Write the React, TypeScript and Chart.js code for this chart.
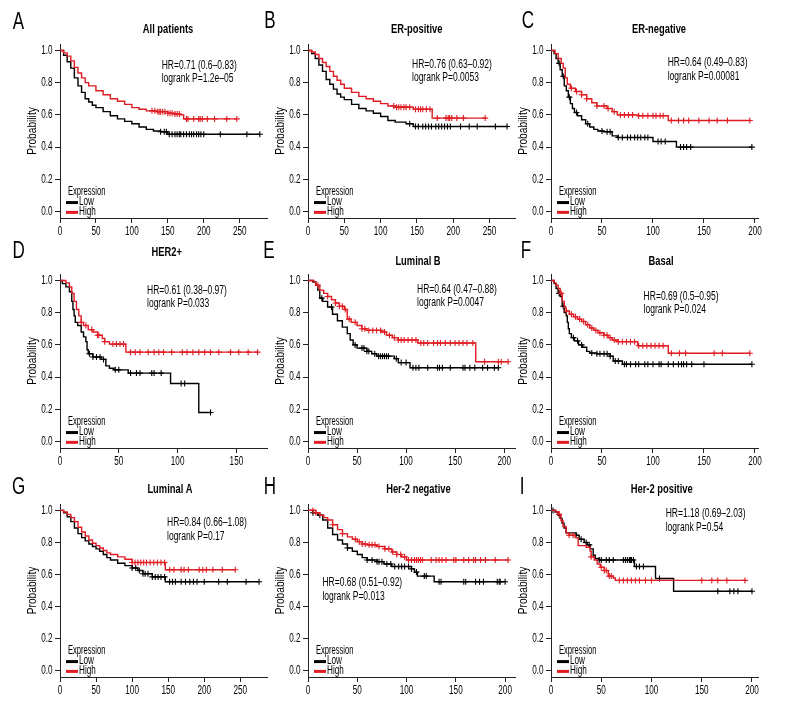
import React, { useEffect, useRef } from 'react';
import { Chart, registerables } from 'chart.js';

Chart.register(...registerables);

// ---------- shared labels / ticks ----------
const Y_TICKS = [0, 0.2, 0.4, 0.6, 0.8, 1.0];
const X_TICKS_250 = [0, 50, 100, 150, 200, 250];
const X_TICKS_200 = [0, 50, 100, 150, 200];
const X_TICKS_150 = [0, 50, 100, 150];
const Y_TITLE = 'Probability';
const LEGEND_TITLE = 'Expression';
const GROUP_LABELS = ['Low', 'High'];

// ---------- A: All patients ----------
const A_LOW_T = [0, 5, 10, 15, 20, 25, 30, 35, 40, 45, 50, 60, 70, 80, 90, 100, 110, 120, 130, 140, 150];
const A_LOW_S = [1, 0.97, 0.93, 0.89, 0.83, 0.78, 0.74, 0.7, 0.68, 0.66, 0.645, 0.62, 0.595, 0.575, 0.56, 0.545, 0.525, 0.51, 0.5, 0.495, 0.48];
const A_LOW_C = [140, 145, 148, 152, 156, 160, 163, 166, 168, 172, 176, 180, 183, 186, 190, 193, 196, 200, 223, 260, 278];
const A_HIGH_T = [0, 5, 10, 15, 20, 25, 30, 35, 40, 50, 60, 70, 80, 90, 100, 110, 120, 135, 150, 160, 168, 172];
const A_HIGH_S = [1, 0.985, 0.965, 0.935, 0.895, 0.86, 0.83, 0.8, 0.78, 0.75, 0.725, 0.7, 0.685, 0.665, 0.645, 0.635, 0.625, 0.62, 0.61, 0.605, 0.6, 0.575];
const A_HIGH_C = [128, 132, 136, 138, 140, 143, 146, 150, 153, 156, 160, 163, 166, 176, 178, 186, 193, 195, 198, 205, 215, 232, 246];

// ---------- B: ER-positive ----------
const B_LOW_T = [0, 5, 10, 15, 20, 25, 30, 35, 40, 45, 50, 60, 70, 80, 90, 100, 110, 120, 135, 145];
const B_LOW_S = [1, 0.98, 0.95, 0.91, 0.87, 0.82, 0.79, 0.76, 0.73, 0.71, 0.695, 0.665, 0.64, 0.625, 0.61, 0.59, 0.565, 0.555, 0.545, 0.528];
const B_LOW_C = [140, 148, 152, 158, 162, 166, 170, 176, 180, 184, 188, 192, 196, 210, 222, 233, 258, 274];
const B_HIGH_T = [0, 5, 10, 15, 20, 25, 30, 35, 40, 45, 50, 60, 70, 80, 90, 100, 110, 120, 145, 171];
const B_HIGH_S = [1, 0.99, 0.975, 0.95, 0.925, 0.9, 0.87, 0.84, 0.815, 0.79, 0.765, 0.74, 0.715, 0.7, 0.685, 0.67, 0.655, 0.648, 0.635, 0.58];
const B_HIGH_C = [118, 122, 125, 128, 132, 135, 140, 148, 152, 155, 158, 163, 168, 178, 190, 193, 195, 198, 205, 214, 244];

// ---------- C: ER-negative ----------
const C_LOW_T = [0, 3, 5, 7, 9, 11, 13, 15, 17, 19, 21, 23, 26, 30, 34, 38, 42, 46, 52, 60, 65, 100, 123];
const C_LOW_S = [1, 0.98, 0.95, 0.92, 0.88, 0.84, 0.78, 0.75, 0.71, 0.67, 0.64, 0.615, 0.595, 0.57, 0.545, 0.525, 0.51, 0.5, 0.495, 0.47, 0.46, 0.435, 0.4];
const C_LOW_C = [8, 12, 18, 25, 36, 50, 55, 58, 66, 70, 75, 78, 82, 85, 88, 92, 95, 105, 108, 112, 127, 130, 133, 137, 197];
const C_HIGH_T = [0, 4, 7, 10, 12, 14, 16, 19, 24, 30, 35, 40, 45, 55, 60, 65, 85, 115];
const C_HIGH_S = [1, 0.98, 0.95, 0.92, 0.89, 0.83, 0.79, 0.765, 0.745, 0.725, 0.7, 0.675, 0.655, 0.64, 0.62, 0.6, 0.595, 0.565];
const C_HIGH_C = [20, 25, 30, 35, 45, 52, 56, 62, 68, 72, 76, 80, 86, 90, 95, 100, 103, 107, 110, 118, 125, 130, 135, 145, 155, 163, 173, 195];

// ---------- D: HER2+ ----------
const D_LOW_T = [0, 2, 5, 8, 10, 11, 12, 13, 15, 18, 20, 22, 23, 24, 28, 35, 39, 42, 46, 58, 94, 118];
const D_LOW_S = [1, 0.98, 0.96, 0.93, 0.87, 0.82, 0.78, 0.74, 0.72, 0.68, 0.65, 0.62, 0.57, 0.545, 0.525, 0.51, 0.47, 0.455, 0.445, 0.425, 0.36, 0.18];
const D_LOW_C = [25, 28, 31, 34, 37, 47, 50, 60, 65, 68, 78, 80, 86, 103, 106, 128];
const D_HIGH_T = [0, 5, 8, 10, 12, 14, 16, 18, 20, 24, 28, 32, 36, 38, 42, 56];
const D_HIGH_S = [1, 0.985, 0.96, 0.92, 0.87, 0.82, 0.78, 0.74, 0.72, 0.695, 0.68, 0.66, 0.64, 0.62, 0.605, 0.555];
const D_HIGH_C = [18, 22, 27, 32, 33, 38, 45, 48, 51, 54, 60, 64, 68, 75, 80, 84, 88, 95, 104, 108, 113, 118, 123, 128, 135, 145, 152, 160, 168];

// ---------- E: Luminal B ----------
const E_LOW_T = [0, 5, 8, 10, 12, 15, 20, 25, 30, 35, 40, 43, 46, 50, 60, 65, 70, 88, 92, 104];
const E_LOW_S = [1, 0.99, 0.97, 0.94, 0.89, 0.87, 0.835, 0.79, 0.75, 0.71, 0.67, 0.63, 0.6, 0.58, 0.56, 0.545, 0.53, 0.515, 0.49, 0.458];
const E_LOW_C = [14, 24, 48, 55, 57, 60, 62, 68, 72, 74, 76, 78, 80, 82, 90, 95, 100, 107, 110, 113, 122, 132, 134, 137, 145, 158, 160, 165, 170, 178, 183, 190, 194];
const E_HIGH_T = [0, 6, 8, 12, 16, 20, 24, 28, 32, 37, 40, 44, 50, 55, 60, 75, 80, 86, 92, 112, 171];
const E_HIGH_S = [1, 0.99, 0.97, 0.94, 0.92, 0.9, 0.88, 0.86, 0.84, 0.82, 0.76, 0.74, 0.72, 0.7, 0.69, 0.68, 0.66, 0.645, 0.63, 0.612, 0.495];
const E_HIGH_C = [10, 20, 28, 32, 35, 38, 42, 48, 55, 58, 62, 66, 70, 74, 78, 83, 88, 92, 95, 98, 102, 106, 110, 115, 118, 122, 128, 132, 135, 140, 145, 150, 154, 158, 162, 168, 180, 194, 197, 204];

// ---------- F: Basal ----------
const F_LOW_T = [0, 3, 5, 7, 9, 11, 13, 15, 16, 17, 18, 20, 23, 27, 31, 35, 38, 45, 58, 61, 70];
const F_LOW_S = [1, 0.98, 0.95, 0.92, 0.9, 0.84, 0.8, 0.78, 0.74, 0.7, 0.67, 0.645, 0.625, 0.6, 0.585, 0.56, 0.55, 0.545, 0.53, 0.5, 0.48];
const F_LOW_C = [8, 12, 22, 26, 30, 40, 45, 48, 52, 55, 58, 63, 66, 72, 74, 78, 83, 86, 92, 95, 100, 106, 108, 115, 120, 125, 128, 130, 133, 138, 150, 197];
const F_HIGH_T = [0, 3, 5, 7, 9, 11, 13, 15, 18, 22, 26, 30, 34, 38, 42, 46, 52, 56, 60, 65, 85, 115];
const F_HIGH_S = [1, 0.985, 0.97, 0.95, 0.92, 0.87, 0.83, 0.81, 0.79, 0.775, 0.76, 0.745, 0.725, 0.705, 0.69, 0.675, 0.66, 0.645, 0.63, 0.62, 0.595, 0.548];
const F_HIGH_C = [10, 15, 20, 24, 28, 32, 36, 40, 44, 48, 52, 55, 58, 62, 66, 70, 74, 78, 82, 86, 90, 94, 98, 102, 106, 110, 118, 126, 132, 160, 168, 195];

// ---------- G: Luminal A ----------
const G_LOW_T = [0, 5, 10, 15, 20, 25, 30, 35, 40, 45, 50, 55, 60, 65, 70, 80, 90, 100, 108, 115, 128, 146];
const G_LOW_S = [1, 0.985, 0.96, 0.93, 0.89, 0.855, 0.83, 0.81, 0.79, 0.775, 0.76, 0.745, 0.725, 0.705, 0.69, 0.67, 0.655, 0.64, 0.625, 0.605, 0.585, 0.555];
const G_LOW_C = [100, 105, 110, 115, 118, 122, 128, 132, 136, 140, 145, 152, 156, 160, 168, 174, 180, 185, 190, 200, 220, 232, 258, 276];
const G_HIGH_T = [0, 5, 10, 15, 20, 25, 30, 35, 40, 45, 50, 55, 60, 65, 70, 80, 90, 100, 146];
const G_HIGH_S = [1, 0.99, 0.975, 0.955, 0.93, 0.895, 0.865, 0.84, 0.815, 0.795, 0.78, 0.765, 0.75, 0.735, 0.725, 0.71, 0.695, 0.675, 0.63];
const G_HIGH_C = [100, 104, 108, 112, 116, 120, 125, 130, 135, 140, 145, 152, 158, 168, 172, 178, 193, 198, 203, 212, 225, 243];

// ---------- H: Her-2 negative ----------
const H_LOW_T = [0, 5, 10, 15, 20, 25, 30, 35, 40, 45, 50, 55, 60, 70, 77, 85, 105, 108, 111, 128];
const H_LOW_S = [1, 0.985, 0.97, 0.94, 0.89, 0.85, 0.815, 0.79, 0.765, 0.745, 0.725, 0.705, 0.69, 0.68, 0.665, 0.65, 0.635, 0.615, 0.59, 0.555];
const H_LOW_C = [5, 12, 40, 60, 65, 70, 72, 75, 80, 84, 88, 92, 95, 98, 102, 105, 110, 118, 120, 133, 135, 158, 160, 170, 174, 178, 192, 194, 195, 200];
const H_HIGH_T = [0, 8, 12, 16, 20, 25, 30, 35, 40, 45, 50, 55, 60, 70, 78, 85, 90, 95, 100];
const H_HIGH_S = [1, 0.985, 0.97, 0.955, 0.94, 0.91, 0.88, 0.855, 0.835, 0.82, 0.805, 0.79, 0.785, 0.775, 0.76, 0.74, 0.725, 0.71, 0.69];
const H_HIGH_C = [5, 8, 25, 35, 48, 52, 55, 58, 62, 65, 68, 72, 78, 82, 86, 90, 94, 98, 102, 105, 108, 110, 112, 114, 116, 125, 130, 133, 136, 140, 148, 150, 158, 163, 168, 170, 175, 180, 190, 203];

// ---------- I: Her-2 positive ----------
const I_LOW_T = [0, 4, 7, 9, 11, 13, 15, 25, 28, 33, 36, 39, 42, 44, 48, 83, 104, 122];
const I_LOW_S = [1, 0.99, 0.97, 0.95, 0.92, 0.89, 0.86, 0.845, 0.82, 0.8, 0.785, 0.76, 0.72, 0.7, 0.69, 0.65, 0.575, 0.495];
const I_LOW_C = [2, 25, 30, 35, 38, 48, 50, 55, 58, 62, 72, 74, 76, 78, 79, 80, 82, 85, 88, 92, 108, 166, 178, 182, 186, 200];
const I_HIGH_T = [0, 5, 8, 10, 12, 15, 18, 24, 27, 35, 39, 40, 43, 46, 49, 53, 57, 62, 64];
const I_HIGH_S = [1, 0.99, 0.975, 0.935, 0.9, 0.86, 0.845, 0.83, 0.78, 0.77, 0.745, 0.71, 0.69, 0.665, 0.645, 0.625, 0.59, 0.578, 0.563];
const I_HIGH_C = [8, 18, 22, 40, 50, 53, 55, 58, 60, 68, 72, 76, 80, 84, 88, 94, 100, 150, 160, 166, 175, 193];

// ---------- panel content ----------
const PANELS = [
  { letter: 'A', title: 'All patients', hr: 'HR=0.71 (0.6–0.83)', p: 'logrank P=1.2e–05', xMax: 288, xTicks: X_TICKS_250,
    low: [A_LOW_T, A_LOW_S, A_LOW_C], high: [A_HIGH_T, A_HIGH_S, A_HIGH_C] },
  { letter: 'B', title: 'ER-positive', hr: 'HR=0.76 (0.63–0.92)', p: 'logrank P=0.0053', xMax: 285, xTicks: X_TICKS_250,
    low: [B_LOW_T, B_LOW_S, B_LOW_C], high: [B_HIGH_T, B_HIGH_S, B_HIGH_C] },
  { letter: 'C', title: 'ER-negative', hr: 'HR=0.64 (0.49–0.83)', p: 'logrank P=0.00081', xMax: 203, xTicks: X_TICKS_200,
    low: [C_LOW_T, C_LOW_S, C_LOW_C], high: [C_HIGH_T, C_HIGH_S, C_HIGH_C] },
  { letter: 'D', title: 'HER2+', hr: 'HR=0.61 (0.38–0.97)', p: 'logrank P=0.033', xMax: 176, xTicks: X_TICKS_150,
    low: [D_LOW_T, D_LOW_S, D_LOW_C], high: [D_HIGH_T, D_HIGH_S, D_HIGH_C] },
  { letter: 'E', title: 'Luminal B', hr: 'HR=0.64 (0.47–0.88)', p: 'logrank P=0.0047', xMax: 211, xTicks: X_TICKS_200,
    low: [E_LOW_T, E_LOW_S, E_LOW_C], high: [E_HIGH_T, E_HIGH_S, E_HIGH_C] },
  { letter: 'F', title: 'Basal', hr: 'HR=0.69 (0.5–0.95)', p: 'logrank P=0.024', xMax: 203, xTicks: X_TICKS_200,
    low: [F_LOW_T, F_LOW_S, F_LOW_C], high: [F_HIGH_T, F_HIGH_S, F_HIGH_C] },
  { letter: 'G', title: 'Luminal A', hr: 'HR=0.84 (0.66–1.08)', p: 'logrank P=0.17', xMax: 287, xTicks: X_TICKS_250,
    low: [G_LOW_T, G_LOW_S, G_LOW_C], high: [G_HIGH_T, G_HIGH_S, G_HIGH_C] },
  { letter: 'H', title: 'Her-2 negative', hr: 'HR=0.68 (0.51–0.92)', p: 'logrank P=0.013', xMax: 210, xTicks: X_TICKS_200,
    low: [H_LOW_T, H_LOW_S, H_LOW_C], high: [H_HIGH_T, H_HIGH_S, H_HIGH_C] },
  { letter: 'I', title: 'Her-2 positive', hr: 'HR=1.18 (0.69–2.03)', p: 'logrank P=0.54', xMax: 206, xTicks: X_TICKS_200,
    low: [I_LOW_T, I_LOW_S, I_LOW_C], high: [I_HIGH_T, I_HIGH_S, I_HIGH_C] },
];

// ---------- layout / style (pixels) ----------
const FONT = "'Liberation Sans', Arial, sans-serif";
const RED = '#e01b22';
const BLACK = '#000000';
const TEXT = '#000000';
const COL_LEFT = [60, 308, 551];
const ROW_TOP = [44, 274, 504];
const ROW_PLOT_H = [174, 174, 173];
const PLOT_W = 207;
const PAD_LEFT = 60;
const PAD_TOP = 44;
const PAD_RIGHT = 14;
const X_AXIS_H = 24;

// offsets relative to the plot area's top-left corner
const DECOR = [
  { letter: [-41.5, -21.8], title: [108, -14.3], hr: [101.7, 21.4] },
  { letter: [-38, -22.3], title: [108.7, -14.3], hr: [104, 20.7] },
  { letter: [-23, -22.3], title: [108, -14.3], hr: [116.7, 19] },
  { letter: [-41.3, -22.6], title: [106.7, -22], hr: [87, 16.4] },
  { letter: [-39, -22.3], title: [110, -12.6], hr: [109, 15.7] },
  { letter: [-25, -22.3], title: [110, -12.6], hr: [92.6, 22.4] },
  { letter: [-41.3, -16.3], title: [110, -14.3], hr: [107, 19] },
  { letter: [-38, -16.3], title: [110.4, -14.3], hr: [14.4, 79] },
  { letter: [-29, -16.3], title: [110.7, -14.3], hr: [114.7, 10] },
];

function stepPoints(t: number[], s: number[], c: number[]) {
  const pts = t.map((x, i) => ({ x, y: s[i] }));
  const end = Math.max(t[t.length - 1], ...c);
  pts.push({ x: end, y: s[s.length - 1] });
  return pts;
}

function survAt(t: number[], s: number[], x: number) {
  let v = s[0];
  for (let i = 0; i < t.length; i++) if (t[i] <= x) v = s[i];
  return v;
}

function censorPoints(t: number[], s: number[], c: number[]) {
  return c.map((x) => ({ x, y: survAt(t, s, x) }));
}

// draws horizontally condensed text (the reference uses a condensed face)
function condText(
  ctx: CanvasRenderingContext2D, text: string, x: number, y: number,
  font: string, sx: number, align: CanvasTextAlign, rotate = 0,
) {
  ctx.save();
  ctx.translate(x, y);
  if (rotate) ctx.rotate(rotate);
  ctx.scale(sx, 1);
  ctx.font = font;
  ctx.textAlign = align;
  ctx.textBaseline = 'middle';
  ctx.fillStyle = TEXT;
  ctx.fillText(text, 0, 0);
  ctx.restore();
}

function Panel({ idx }: { idx: number }) {
  const ref = useRef<HTMLCanvasElement>(null);
  const panel = PANELS[idx];
  const decor = DECOR[idx];
  const col = idx % 3;
  const row = Math.floor(idx / 3);
  const plotH = ROW_PLOT_H[row];
  const width = PAD_LEFT + PLOT_W + PAD_RIGHT;
  const height = PAD_TOP + plotH + X_AXIS_H;
  const left = COL_LEFT[col] - PAD_LEFT;
  const top = ROW_TOP[row] - PAD_TOP;

  useEffect(() => {
    const canvas = ref.current!;
    const [lt, ls, lc] = panel.low;
    const [ht, hs, hc] = panel.high;

    const decorPlugin = {
      id: 'kmDecor',
      afterDraw(chart: any) {
        const ctx = chart.ctx as CanvasRenderingContext2D;
        const a = chart.chartArea;
        const xs = chart.scales.x;
        const ys = chart.scales.y;
        const y0 = ys.getPixelForValue(0);
        const small = `12px ${FONT}`;
        // tick labels
        panel.xTicks.forEach((v) => {
          condText(ctx, String(v), xs.getPixelForValue(v), a.bottom + 13.5, small, 0.68, 'center');
        });
        Y_TICKS.forEach((v) => {
          condText(ctx, v.toFixed(1), a.left - 7.5, ys.getPixelForValue(v), small, 0.68, 'right');
        });
        // axis title
        condText(ctx, Y_TITLE, a.left - 27, (a.top + a.bottom) / 2, small, 0.85, 'center', -Math.PI / 2);
        // letter, title, stats
        condText(ctx, panel.letter, a.left + decor.letter[0], a.top + decor.letter[1], `23px ${FONT}`, 0.74, 'center');
        condText(ctx, panel.title, a.left + decor.title[0], a.top + decor.title[1], `bold 13px ${FONT}`, 0.72, 'center');
        condText(ctx, panel.hr, a.left + decor.hr[0], a.top + decor.hr[1], small, 0.71, 'left');
        condText(ctx, panel.p, a.left + decor.hr[0], a.top + decor.hr[1] + 13.3, small, 0.71, 'left');
        // legend
        condText(ctx, LEGEND_TITLE, a.left + 8, y0 - 19.6, small, 0.63, 'left');
        const colors = [BLACK, RED];
        GROUP_LABELS.forEach((lab, i) => {
          const yy = y0 - 9.5 + i * 9.8;
          ctx.save();
          ctx.strokeStyle = colors[i];
          ctx.lineWidth = 3;
          ctx.beginPath();
          ctx.moveTo(a.left + 6, yy + 0.5);
          ctx.lineTo(a.left + 18, yy + 0.5);
          ctx.stroke();
          ctx.restore();
          condText(ctx, lab, a.left + 19, yy, small, 0.68, 'left');
        });
      },
    };

    const axisGrid = { drawOnChartArea: false, drawTicks: true, tickLength: 5, color: '#222', lineWidth: 1 };
    const chart = new Chart(canvas, {
      type: 'scatter',
      data: {
        datasets: [
          { label: 'High', data: stepPoints(ht, hs, hc), showLine: true, stepped: 'before', borderColor: RED, borderWidth: 1.4, pointRadius: 0, fill: false },
          { label: 'High censored', data: censorPoints(ht, hs, hc), showLine: false, pointStyle: 'cross', pointRadius: 3, borderColor: RED, backgroundColor: RED, borderWidth: 1.1 },
          { label: 'Low', data: stepPoints(lt, ls, lc), showLine: true, stepped: 'before', borderColor: BLACK, borderWidth: 1.4, pointRadius: 0, fill: false },
          { label: 'Low censored', data: censorPoints(lt, ls, lc), showLine: false, pointStyle: 'cross', pointRadius: 3, borderColor: BLACK, backgroundColor: BLACK, borderWidth: 1.1 },
        ] as any,
      },
      options: {
        responsive: false,
        animation: false,
        devicePixelRatio: 1,
        layout: { padding: { left: 0, top: PAD_TOP, right: PAD_RIGHT, bottom: 0 } },
        plugins: { legend: { display: false }, tooltip: { enabled: false }, title: { display: false } },
        scales: {
          x: {
            type: 'linear',
            min: 0,
            max: panel.xMax,
            afterBuildTicks: (s: any) => { s.ticks = panel.xTicks.map((v) => ({ value: v })); },
            afterFit: (s: any) => { s.height = X_AXIS_H; },
            grid: axisGrid,
            border: { display: true, color: '#222', width: 1 },
            ticks: { display: false, autoSkip: false },
          },
          y: {
            type: 'linear',
            min: -0.04,
            max: 1.04,
            afterBuildTicks: (s: any) => { s.ticks = Y_TICKS.map((v) => ({ value: v })); },
            afterFit: (s: any) => { s.width = PAD_LEFT; },
            grid: axisGrid,
            border: { display: true, color: '#222', width: 1 },
            ticks: { display: false, autoSkip: false },
          },
        },
      } as any,
      plugins: [decorPlugin],
    });
    return () => chart.destroy();
  }, []);

  return (
    <canvas
      ref={ref}
      width={width}
      height={height}
      style={{ position: 'absolute', left, top, width, height, display: 'block' }}
    />
  );
}

export default function App() {
  return (
    <div style={{ position: 'absolute', left: 0, top: 0, width: 792, height: 720, background: '#fff', overflow: 'hidden' }}>
      {PANELS.map((_, i) => (
        <Panel key={i} idx={i} />
      ))}
    </div>
  );
}
